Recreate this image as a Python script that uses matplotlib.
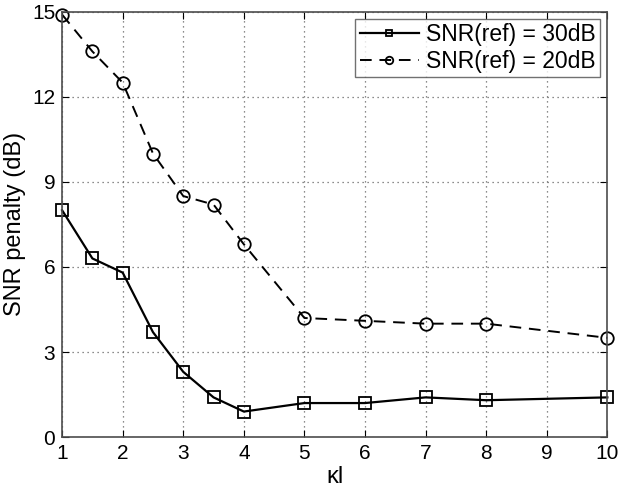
import numpy as np
import matplotlib
matplotlib.use('Agg')
import matplotlib.pyplot as plt

plt.rcParams['font.family'] = ['Liberation Sans', 'DejaVu Sans']

kl = [1, 1.5, 2, 2.5, 3, 3.5, 4, 5, 6, 7, 8, 10]
snr30 = [8.0, 6.3, 5.8, 3.7, 2.3, 1.4, 0.9, 1.2, 1.2, 1.4, 1.3, 1.4]
snr20 = [14.9, 13.6, 12.5, 10.0, 8.5, 8.2, 6.8, 4.2, 4.1, 4.0, 4.0, 3.5]
labels = ['SNR(ref) = 30dB', 'SNR(ref) = 20dB']

fig = plt.figure(figsize=(6.21, 4.9), dpi=100)
ax = fig.add_axes([0.1, 0.108, 0.878, 0.868])

ax.plot(kl, snr30, 'k-s', lw=1.6, ms=8, mfc='none', mew=1.3, clip_on=False, label=labels[0])
ax.plot(kl, snr20, 'k--o', lw=1.4, ms=9, mfc='none', mew=1.3, dashes=(6, 4),
        clip_on=False, label=labels[1])

ax.set_xlim(1, 10)
ax.set_ylim(0, 15)
ax.set_xticks(range(1, 11))
ax.set_yticks(range(0, 16, 3))
ax.grid(True, ls=(0, (1, 3)), color='0.4', lw=0.9)
ax.tick_params(direction='in', top=True, right=True, labelsize=15, length=5, pad=5)
for s in ax.spines.values():
    s.set_color('0.3')
    s.set_linewidth(1.2)

ax.set_ylabel('SNR penalty (dB)', fontsize=17, labelpad=4)
ax.set_xlabel('κl', fontsize=17, labelpad=2)

leg = ax.legend(loc='upper right', fontsize=16.5, fancybox=False, edgecolor='0.3',
                handlelength=2.6, handletextpad=0.3, borderaxespad=0.3,
                borderpad=0.2, labelspacing=0.15, markerscale=0.6)
leg.get_frame().set_linewidth(1.0)

fig.savefig('out.png', dpi=100)
